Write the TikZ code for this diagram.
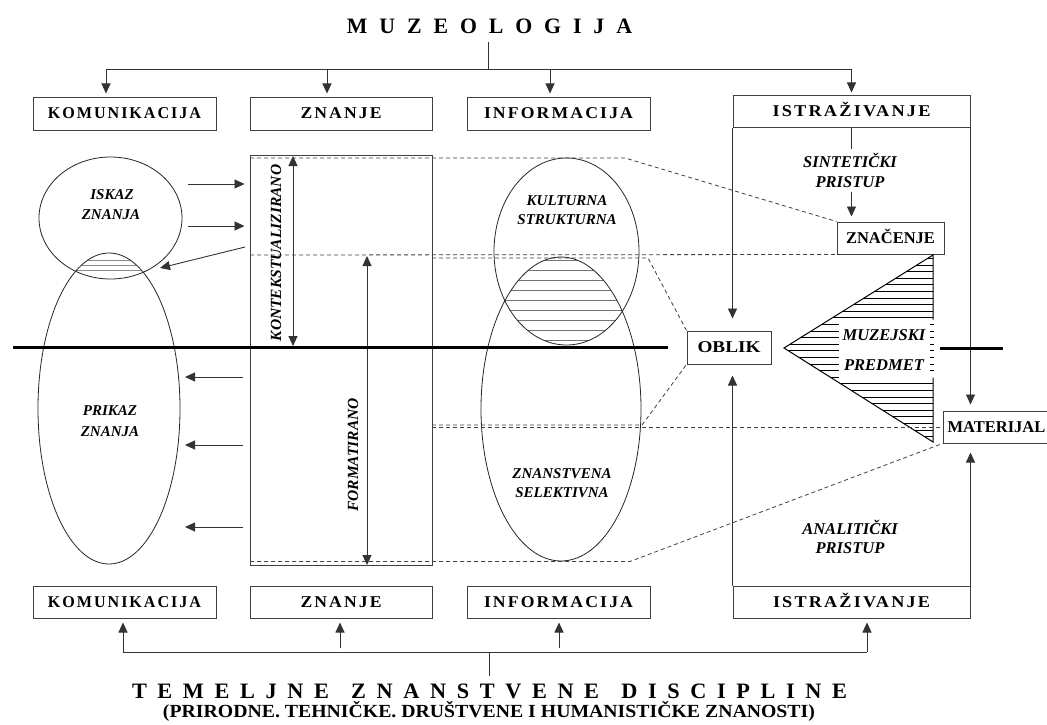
\documentclass[tikz,border=0pt]{standalone}
\usepackage{graphicx}
\usepackage{fontspec}
\setmainfont{Liberation Serif}
\newfontfamily\trackfont[LetterSpace=12]{Liberation Serif}
\usetikzlibrary{arrows.meta,shapes.geometric,calc}
% stretch a label horizontally to a given width, keeping its height
\newcommand{\fitw}[2]{\resizebox{#1}{\height}{#2}}
\newcommand{\boxlbl}[2]{\fitw{#1}{\fontsize{16.5}{18}\selectfont\trackfont\bfseries #2}}
\newcommand{\ltrgap}{\hspace{12pt}}
\newcommand{\bgap}{\hspace{10.5pt}}
\newcommand{\wgap}{\hspace{22pt}}

\begin{document}
\begin{tikzpicture}[x=1pt,y=-1pt,
  box/.style={draw=black!75, line width=1pt, rectangle, inner sep=0pt, text height=10.9pt, text depth=0pt},
  ell/.style={draw=black!85, line width=0.8pt, ellipse, inner sep=0pt},
  conn/.style={draw=black!80, line width=0.9pt},
  arr/.style={conn, -{Triangle[length=10pt,width=9pt]}},
  dbl/.style={conn, {Triangle[length=10pt,width=9pt]}-{Triangle[length=10pt,width=9pt]}},
  dsh/.style={draw=black!75, line width=0.8pt, dash pattern=on 4pt off 3pt},
  thick line/.style={draw=black, line width=3pt},
  lbl/.style={inner sep=0pt, text depth=0pt},
  itA/.style={lbl, font=\fontsize{15}{17}\selectfont\bfseries\itshape, text height=9.9pt},
  itB/.style={lbl, font=\fontsize{16.5}{18}\selectfont\bfseries\itshape, text height=10.9pt},
  itV/.style={lbl, font=\fontsize{15.5}{17}\selectfont\bfseries\itshape, text height=10.3pt, rotate=90},
  upB/.style={font=\fontsize{16.5}{18}\selectfont\bfseries}
]
\useasboundingbox (0,0) rectangle (1047,725);
\fill[white] (0,0) rectangle (1047,725);

% ---------- titles ----------
\node[lbl, text height=15pt] (title) at (489.5,26)
  {\fitw{285pt}{\fontsize{22}{24}\selectfont\bfseries M\ltrgap U\ltrgap Z\ltrgap E\ltrgap O\ltrgap L\ltrgap O\ltrgap G\ltrgap I\ltrgap J\ltrgap A}};
\node[lbl, text height=15pt] (base) at (489.5,690.5)
  {\fitw{715pt}{\fontsize{22}{24}\selectfont\bfseries T\bgap E\bgap M\bgap E\bgap L\bgap J\bgap N\bgap E\wgap Z\bgap N\bgap A\bgap N\bgap S\bgap T\bgap V\bgap E\bgap N\bgap E\wgap D\bgap I\bgap S\bgap C\bgap I\bgap P\bgap L\bgap I\bgap N\bgap E}};
\node[lbl, text height=12.5pt] (basesub) at (489,711.5)
  {\fitw{652pt}{\fontsize{18.5}{21}\selectfont\bfseries (PRIRODNE. TEHNIČKE. DRUŠTVENE I HUMANISTIČKE ZNANOSTI)}};

% ---------- top and bottom rows of boxes ----------
\node[box, minimum width=183pt, minimum height=33pt] (kom1) at (124.5,113.5) {\boxlbl{153pt}{KOMUNIKACIJA}};
\node[box, minimum width=182pt, minimum height=33pt] (zn1) at (341,113.5) {\boxlbl{81pt}{ZNANJE}};
\node[box, minimum width=183pt, minimum height=33pt] (inf1) at (558.5,113.5) {\boxlbl{149pt}{INFORMACIJA}};
\node[box, minimum width=237pt, minimum height=32pt] (ist1) at (851.5,111) {\boxlbl{158pt}{ISTRAŽIVANJE}};

\node[box, minimum width=183pt, minimum height=32pt] (kom2) at (124.5,602) {\boxlbl{153pt}{KOMUNIKACIJA}};
\node[box, minimum width=182pt, minimum height=32pt] (zn2) at (341,602) {\boxlbl{81pt}{ZNANJE}};
\node[box, minimum width=183pt, minimum height=32pt] (inf2) at (558.5,602) {\boxlbl{149pt}{INFORMACIJA}};
\node[box, minimum width=237pt, minimum height=32pt] (ist2) at (851.5,602) {\boxlbl{157pt}{ISTRAŽIVANJE}};

% ---------- top distribution bus ----------
\coordinate (tstub) at (488,42);
\coordinate (tbus) at (488,69);
\coordinate (tb1) at (106,69);
\coordinate (tb2) at (327,69);
\coordinate (tb3) at (550,69);
\coordinate (tb4) at (851.5,69);
\draw[conn] (tstub) -- (tbus);
\draw[conn] (tb1) -- (tb4);
\draw[arr, shorten >=3pt] (tb1) -- (tb1 |- kom1.north);
\draw[arr, shorten >=3pt] (tb2) -- (tb2 |- zn1.north);
\draw[arr, shorten >=3pt] (tb3) -- (tb3 |- inf1.north);
\draw[arr, shorten >=2pt] (tb4) -- (ist1.north);

% ---------- bottom collecting bus ----------
\coordinate (bstub) at (489,676);
\coordinate (bbus) at (489,652);
\coordinate (bb1) at (123,652);
\coordinate (bb2) at (340,648);
\coordinate (bb3) at (559,648);
\coordinate (bb4) at (867,652);
\draw[conn] (bstub) -- (bbus);
\draw[conn] (bb1) -- (bb4);
\draw[arr, shorten >=4pt] (bb1) -- (bb1 |- kom2.south);
\draw[arr, shorten >=4pt] (bb2) -- (bb2 |- zn2.south);
\draw[arr, shorten >=4pt] (bb3) -- (bb3 |- inf2.south);
\draw[arr, shorten >=4pt] (bb4) -- (bb4 |- ist2.south);

% ---------- hatched overlaps ----------
\begin{scope}
  \clip (110.5,218) ellipse [x radius=71.5pt, y radius=61pt];
  \clip (109,408.5) ellipse [x radius=71pt, y radius=155.5pt];
  \foreach \yy in {260,265,270}
    \draw[black!45, line width=0.8pt] (30,\yy) -- (190,\yy);
\end{scope}
\begin{scope}
  \clip (566.5,251.5) ellipse [x radius=72.5pt, y radius=93.5pt];
  \clip (561,409) ellipse [x radius=80pt, y radius=152pt];
  \foreach \yy in {260,270,...,345}
    \draw[black!55, line width=0.9pt] (470,\yy) -- (650,\yy);
\end{scope}

% ---------- ellipses ----------
\node[ell, minimum width=143pt, minimum height=122pt] (iskaz) at (110.5,218) {};
\node[ell, minimum width=142pt, minimum height=311pt] (prikaz) at (109,408.5) {};
\node[ell, minimum width=145pt, minimum height=187pt] (kult) at (566.5,251.5) {};
\node[ell, minimum width=160pt, minimum height=304pt] (znan) at (561,409) {};

\node[itA] (iskaz1) at (112,195) {ISKAZ};
\node[itA] (iskaz2) at (111,215) {ZNANJA};
\node[itA] (prikaz1) at (110,411) {PRIKAZ};
\node[itA] (prikaz2) at (110,432) {ZNANJA};
\node[itA] (kult1) at (567,201) {KULTURNA};
\node[itA] (kult2) at (567,220) {STRUKTURNA};
\node[itA] (znan1) at (562,474) {ZNANSTVENA};
\node[itA] (znan2) at (562,493) {SELEKTIVNA};

% ---------- knowledge column ----------
\node[draw=black!75, line width=1pt, minimum width=182pt, minimum height=410pt, inner sep=0pt] (zrect) at (341,360) {};
\node[itV] (kontekst) at (276,253) {KONTEKSTUALIZIRANO};
\node[itV] (format) at (353,455) {FORMATIRANO};
\coordinate (k1) at (293,155);
\coordinate (k2) at (293,347);
\coordinate (f1) at (367,256);
\coordinate (f2) at (367,565);
\draw[dbl, shorten <=1pt, shorten >=1pt] (k1) -- (k2);
\draw[dbl] (f1) -- (f2);

% ---------- small arrows between knowledge and its ellipses ----------
\coordinate (r1) at (188,184);
\coordinate (r2) at (188,226);
\coordinate (r3) at (245,247);
\coordinate (r3e) at (160,268);
\draw[arr, shorten >=5pt] (r1) -- (r1 -| zrect.west);
\draw[arr, shorten >=5pt] (r2) -- (r2 -| zrect.west);
\draw[arr] (r3) -- (r3e);
\coordinate (l1) at (243,377);
\coordinate (l2) at (243,445);
\coordinate (l3) at (243,527);
\coordinate (l1e) at (185,377);
\coordinate (l2e) at (185,445);
\coordinate (l3e) at (185,527);
\draw[arr] (l1) -- (l1e);
\draw[arr] (l2) -- (l2e);
\draw[arr] (l3) -- (l3e);

% ---------- museum object ----------
\node[box, upB, minimum width=84pt, minimum height=33pt] (oblik) at (729,347.5) {\fitw{63pt}{OBLIK}};
\node[box, upB, minimum width=107pt, minimum height=32pt] (znac) at (890.5,238) {ZNAČENJE};
\node[box, upB, minimum width=107pt, minimum height=32pt] (mat) at (996.5,427) {MATERIJAL};

\coordinate (tA) at (784,348);
\coordinate (tB) at (933,255);
\coordinate (tC) at (933,442);
\begin{scope}
  \clip (tA) -- (tB) -- (tC) -- cycle;
  \foreach \i in {0,...,28}
    \draw[black, line width=1.1pt] (780,258.5+6.6*\i) -- (940,258.5+6.6*\i);
\end{scope}
\fill[white] (839,319.5) rectangle (937,377.5);
\foreach \i in {10,...,17}
  \draw[black, line width=1.1pt] (930,258.5+6.6*\i) -- (934,258.5+6.6*\i);
\draw[black, line width=1pt] (933,319.5) -- (tB) -- (tA) -- (tC) -- (933,377.5);
\node[itB] (muz1) at (884,335) {MUZEJSKI};
\node[itB] (muz2) at (884,365) {PREDMET};

% ---------- research frame ----------
\draw[arr, shorten >=12pt] (ist1.south west) -- (ist1.south west |- oblik.north);
\draw[arr, shorten >=11pt] (ist2.north west) -- (ist2.north west |- oblik.south);
\draw[arr, shorten >=6pt] (ist1.south east) -- (ist1.south east |- mat.north);
\draw[arr, shorten >=9pt] (ist2.north east) -- (ist2.north east |- mat.south);
\coordinate (sstub) at (851.5,149);
\coordinate (sarr) at (851.5,192);
\draw[conn] (ist1.south) -- (sstub);
\draw[arr, shorten >=5pt] (sarr) -- (sarr |- znac.north);
\node[itB] (sint1) at (850,162) {SINTETIČKI};
\node[itB] (sint2) at (850,182) {PRISTUP};
\node[itB] (anal1) at (850,529) {ANALITIČKI};
\node[itB] (anal2) at (850,548) {PRISTUP};

% ---------- dashed projections ----------
\coordinate (d1a) at (250,158);
\coordinate (d1b) at (625,158);
\coordinate (d2a) at (250,255);
\coordinate (d3a) at (432,258);
\coordinate (d3b) at (648,258);
\coordinate (d4a) at (432,425);
\coordinate (d4b) at (642,425);
\coordinate (d5a) at (432,427);
\coordinate (d6a) at (250,561.5);
\coordinate (d6b) at (630,561.5);
\draw[dsh] (d1a) -- (d1b) -- (znac.north west);
\draw[dsh] (d2a) -- (znac.south west);
\draw[dsh] (d3a) -- (d3b) -- (oblik.north west);
\draw[dsh] (d4a) -- (d4b) -- (oblik.south west);
\draw[dsh] (d5a) -- (mat.west);
\draw[dsh] (d6a) -- (d6b) -- (mat.south west);

% ---------- horizon line ----------
\coordinate (th1) at (13,347);
\coordinate (th2) at (668,347);
\coordinate (th3) at (940,348);
\coordinate (th4) at (1003,348);
\draw[thick line] (th1) -- (th2);
\draw[thick line] (th3) -- (th4);
\end{tikzpicture}
\end{document}
